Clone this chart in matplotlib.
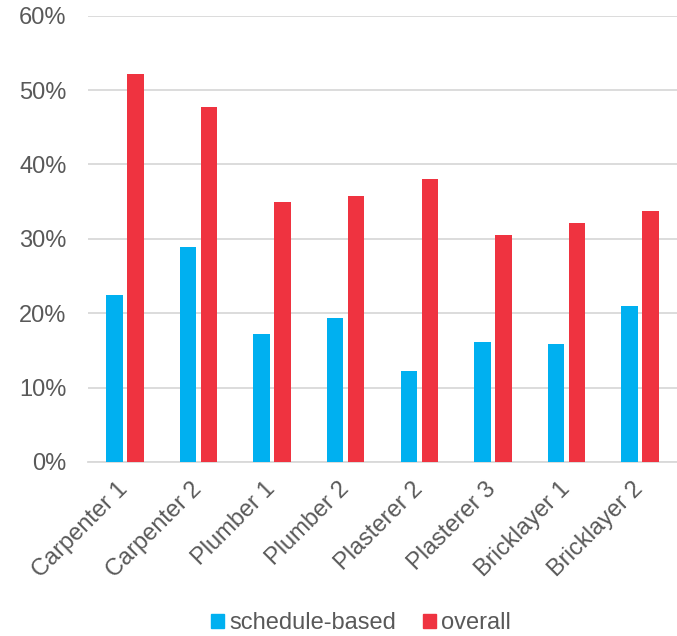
import matplotlib
matplotlib.use("Agg")
import matplotlib.pyplot as plt
import numpy as np
from matplotlib.ticker import PercentFormatter
from matplotlib.patches import Patch

categories = ["Carpenter 1", "Carpenter 2", "Plumber 1", "Plumber 2",
              "Plasterer 2", "Plasterer 3", "Bricklayer 1", "Bricklayer 2"]
schedule_based = [22.4, 28.9, 17.2, 19.3, 12.3, 16.1, 15.8, 21.0]
overall = [52.1, 47.7, 34.9, 35.7, 38.0, 30.5, 32.1, 33.7]
series_names = ["schedule-based", "overall"]
yticks = [0, 10, 20, 30, 40, 50, 60]

blue = "#00B0F0"
red = "#EF3340"
gray_text = "#595959"
grid_col = "#D9D9D9"

plt.rcParams['font.family'] = ['Liberation Sans', 'DejaVu Sans']

fig = plt.figure(figsize=(6.77, 6.36), dpi=100)
ax = fig.add_axes([88/677, 1 - 462/636, 1 - 88/677, (462 - 15.7)/636])

x = np.arange(len(categories))
w = 0.225
off = 0.143
ax.bar(x - off, schedule_based, width=w, color=blue, zorder=3)
ax.bar(x + off, overall, width=w, color=red, zorder=3)

ax.set_ylim(0, 60)
ax.set_xlim(-0.5, 7.5)
ax.set_yticks(yticks)
ax.yaxis.set_major_formatter(PercentFormatter(decimals=0))
ax.grid(axis='y', color=grid_col, linewidth=1.3, zorder=0)
for s in ['top', 'right', 'left']:
    ax.spines[s].set_visible(False)
ax.spines['bottom'].set_color(grid_col)
ax.spines['bottom'].set_linewidth(1.3)
ax.tick_params(axis='y', length=0, pad=15.5, labelsize=17, labelcolor=gray_text)
ax.tick_params(axis='x', length=0, pad=17, labelsize=17, labelcolor=gray_text)
ax.set_xticks(x)
ax.set_xticklabels(categories, rotation=45, ha='right', va='center', rotation_mode='anchor')

handles = [Patch(color=blue), Patch(color=red)]
leg = fig.legend(handles, series_names, loc='center', bbox_to_anchor=(361/677, 1 - 623/636),
                 ncol=2, frameon=False, fontsize=17, handlelength=0.55, handleheight=0.55,
                 handletextpad=0.22, columnspacing=1.12, borderpad=0, borderaxespad=0)
for t in leg.get_texts():
    t.set_color(gray_text)

fig.savefig("out.png", dpi=100)
